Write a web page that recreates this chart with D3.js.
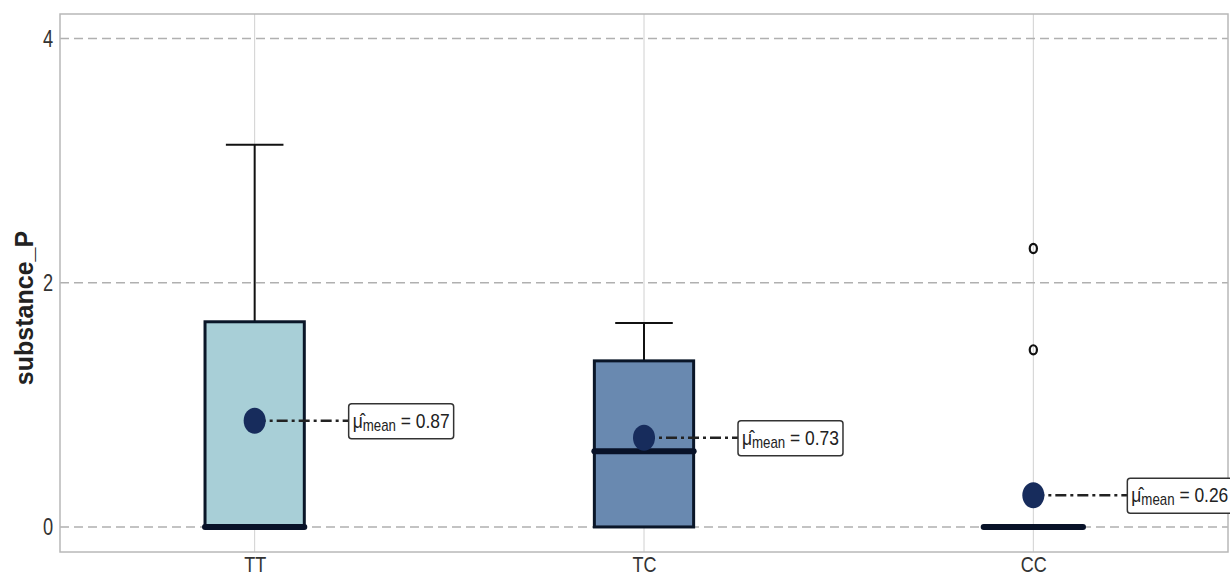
<!DOCTYPE html>
<html>
<head>
<meta charset="utf-8">
<script src="https://cdn.jsdelivr.net/npm/d3@7"></script>
<style>
  html, body { margin: 0; padding: 0; background: #fff; }
  svg text { font-family: "Liberation Sans", Arial, sans-serif; }
</style>
</head>
<body>
<svg id="chart" width="1230" height="576"></svg>
<script>
// Genotype groups and their box-plot summaries
const categories = ["TT", "TC", "CC"];
const q1Values = [0, 0, 0];
const medianValues = [0, 0.62, 0];
const q3Values = [1.68, 1.36, 0];
const whiskerLow = [0, 0, 0];
const whiskerHigh = [3.13, 1.67, 0];
const meanValues = [0.87, 0.73, 0.26];
const outlierValues = [[], [], [2.28, 1.45]];
const boxColors = ["#a8cfd7", "#6989b0", "#a8cfd7"];
const yTicks = [0, 2, 4];

const svg = d3.select("#chart");
const margin = { left: 60, right: 2, top: 14, bottom: 24 };
const W = 1230, H = 576;
const narrow = "scale(0.76,1)";

const x = d3.scalePoint().domain(categories)
  .range([margin.left, W - margin.right]).padding(0.5);
const y = d3.scaleLinear().domain([-0.205, 4.2])
  .range([H - margin.bottom, margin.top]);

const step = x.step();
const boxW = step * 0.255;
const capW = boxW * 0.58;

// vertical grid at category centres
svg.append("g").selectAll("line").data(categories).join("line")
  .attr("x1", d => x(d)).attr("x2", d => x(d))
  .attr("y1", margin.top).attr("y2", H - margin.bottom)
  .attr("stroke", "#d0d0d0").attr("stroke-width", 1);

// dashed horizontal grid
svg.append("g").selectAll("line").data(yTicks).join("line")
  .attr("x1", margin.left).attr("x2", W - margin.right)
  .attr("y1", d => y(d)).attr("y2", d => y(d))
  .attr("stroke", "#b0b0b0").attr("stroke-width", 1.4)
  .attr("stroke-dasharray", "9,5");

// plot frame
svg.append("rect")
  .attr("x", margin.left).attr("y", margin.top)
  .attr("width", W - margin.right - margin.left)
  .attr("height", H - margin.bottom - margin.top)
  .attr("fill", "none").attr("stroke", "#b8b8b8").attr("stroke-width", 1.5);

// y axis ticks (labels only)
const yAxis = d3.axisLeft(y).tickValues(yTicks).tickSize(0).tickPadding(9).tickFormat(d3.format("d"));
const gy = svg.append("g").attr("transform", `translate(${margin.left},0)`).call(yAxis);
gy.select(".domain").remove();
gy.selectAll("text").attr("font-size", 24).attr("fill", "#333").attr("transform", narrow);

// x axis labels
const xAxis = d3.axisBottom(x).tickSize(0).tickPadding(4);
const gx = svg.append("g").attr("transform", `translate(0,${H - margin.bottom})`).call(xAxis);
gx.select(".domain").remove();
gx.selectAll("text").attr("font-size", 22).attr("fill", "#333").attr("transform", "scale(0.82,1)");

// y axis title
svg.append("text")
  .attr("transform", `translate(33,${(margin.top + H - margin.bottom) / 2 + 25}) rotate(-90)`)
  .attr("text-anchor", "middle")
  .attr("font-size", 25).attr("font-weight", "bold").attr("fill", "#222")
  .text("substance_P");

const groups = svg.append("g").selectAll("g").data(categories).join("g");

// whiskers
groups.append("line")
  .attr("x1", d => x(d)).attr("x2", d => x(d))
  .attr("y1", (d, i) => y(q3Values[i])).attr("y2", (d, i) => y(whiskerHigh[i]))
  .attr("stroke", "#111").attr("stroke-width", 2);
groups.filter((d, i) => whiskerHigh[i] > q3Values[i]).append("line")
  .attr("x1", d => x(d) - capW / 2).attr("x2", d => x(d) + capW / 2)
  .attr("y1", d => y(whiskerHigh[categories.indexOf(d)]))
  .attr("y2", d => y(whiskerHigh[categories.indexOf(d)]))
  .attr("stroke", "#111").attr("stroke-width", 2);

// boxes
groups.filter((d, i) => q3Values[i] > q1Values[i]).append("rect")
  .attr("x", d => x(d) - boxW / 2)
  .attr("y", d => y(q3Values[categories.indexOf(d)]))
  .attr("width", boxW)
  .attr("height", d => { const i = categories.indexOf(d); return y(q1Values[i]) - y(q3Values[i]); })
  .attr("fill", d => boxColors[categories.indexOf(d)])
  .attr("stroke", "#0a1628").attr("stroke-width", 3);

// medians
groups.append("line")
  .attr("x1", d => x(d) - boxW / 2).attr("x2", d => x(d) + boxW / 2)
  .attr("y1", (d, i) => y(medianValues[i])).attr("y2", (d, i) => y(medianValues[i]))
  .attr("stroke", "#081228").attr("stroke-width", 6).attr("stroke-linecap", "round");

// outliers
groups.each(function (d, i) {
  d3.select(this).selectAll("ellipse.out").data(outlierValues[i]).join("ellipse")
    .attr("class", "out")
    .attr("cx", x(d)).attr("cy", v => y(v))
    .attr("rx", 3.6).attr("ry", 4.6)
    .attr("fill", "none").attr("stroke", "#111").attr("stroke-width", 2.2);
});

// mean connectors
const labelOffset = 94;
groups.append("line")
  .attr("x1", d => x(d)).attr("x2", d => x(d) + labelOffset)
  .attr("y1", (d, i) => y(meanValues[i])).attr("y2", (d, i) => y(meanValues[i]))
  .attr("stroke", "#222").attr("stroke-width", 2.5)
  .attr("stroke-dasharray", "11,4,3,4");

// mean points
groups.append("ellipse")
  .attr("cx", d => x(d)).attr("cy", (d, i) => y(meanValues[i]))
  .attr("rx", 11).attr("ry", 13)
  .attr("fill", "#172c5c");

// mean labels
const labelScale = 0.83;
groups.each(function (d, i) {
  const g = d3.select(this).append("g")
    .attr("transform", `translate(${x(d) + labelOffset},${y(meanValues[i])})`);
  const tg = g.append("g").attr("transform", `translate(4,0) scale(${labelScale},1)`);
  const t = tg.append("text").attr("x", 0).attr("y", 7).attr("fill", "#222");
  t.append("tspan").attr("font-size", 21).text("\u03BC\u0302");
  t.append("tspan").attr("font-size", 16).attr("dy", 3).text("mean");
  t.append("tspan").attr("font-size", 21).attr("dy", -3).text(" = " + d3.format(".2f")(meanValues[i]));
  const bb = t.node().getBBox();
  g.insert("rect", "g")
    .attr("x", 0).attr("y", -17).attr("width", bb.width * labelScale + 8).attr("height", 35)
    .attr("rx", 3).attr("fill", "#fff").attr("stroke", "#333").attr("stroke-width", 1.5);
});
</script>
</body>
</html>
